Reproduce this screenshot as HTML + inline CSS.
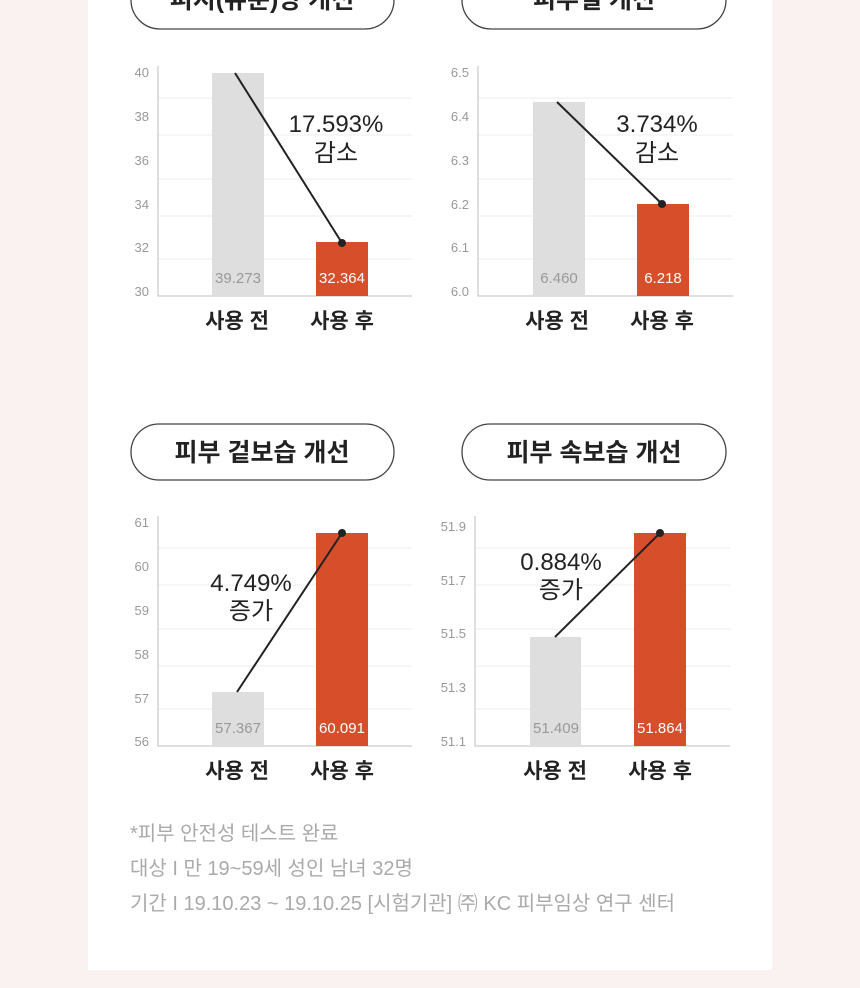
<!DOCTYPE html>
<html><head><meta charset="utf-8"><style>
body{margin:0;background:#f9f2f1;width:860px;height:988px;overflow:hidden;font-family:"Liberation Sans","Noto Sans CJK KR",sans-serif}
svg{position:absolute;left:0;top:0}
</style></head><body>
<svg width="860" height="988" viewBox="0 0 860 988" font-family="Liberation Sans, Noto Sans CJK KR, sans-serif">
<rect x="88" y="0" width="684" height="970" fill="#fff"/>
<!-- pills -->
<rect x="131" y="-30" width="263" height="59" rx="29" fill="#fff" stroke="#444" stroke-width="1.3"/>
<text x="262" y="8" font-size="25" font-weight="bold" text-anchor="middle" fill="#222">피지(유분)량 개선</text>
<rect x="462" y="-30" width="264" height="59" rx="29" fill="#fff" stroke="#444" stroke-width="1.3"/>
<text x="594" y="8" font-size="25" font-weight="bold" text-anchor="middle" fill="#222">피부결 개선</text>
<rect x="131" y="424" width="263" height="56" rx="28" fill="#fff" stroke="#444" stroke-width="1.3"/>
<text x="262" y="461" font-size="25" font-weight="bold" text-anchor="middle" fill="#222">피부 겉보습 개선</text>
<rect x="462" y="424" width="264" height="56" rx="28" fill="#fff" stroke="#444" stroke-width="1.3"/>
<text x="594" y="461" font-size="25" font-weight="bold" text-anchor="middle" fill="#222">피부 속보습 개선</text>

<g font-size="13" fill="#999" text-anchor="end">
<text x="149" y="77">40</text><text x="149" y="121">38</text><text x="149" y="165">36</text><text x="149" y="209">34</text><text x="149" y="252">32</text><text x="149" y="296">30</text>
<text x="469" y="77">6.5</text><text x="469" y="121">6.4</text><text x="469" y="165">6.3</text><text x="469" y="209">6.2</text><text x="469" y="252">6.1</text><text x="469" y="296">6.0</text>
<text x="149" y="527">61</text><text x="149" y="571">60</text><text x="149" y="615">59</text><text x="149" y="659">58</text><text x="149" y="703">57</text><text x="149" y="746">56</text>
<text x="466" y="531">51.9</text><text x="466" y="585">51.7</text><text x="466" y="638">51.5</text><text x="466" y="692">51.3</text><text x="466" y="746">51.1</text>
</g>
<g stroke="#eee" stroke-width="1">
<line x1="158" x2="412" y1="98" y2="98"/><line x1="158" x2="412" y1="135" y2="135"/><line x1="158" x2="412" y1="179" y2="179"/><line x1="158" x2="412" y1="216" y2="216"/><line x1="158" x2="412" y1="259" y2="259"/>
<line x1="478" x2="733" y1="98" y2="98"/><line x1="478" x2="733" y1="135" y2="135"/><line x1="478" x2="733" y1="179" y2="179"/><line x1="478" x2="733" y1="216" y2="216"/><line x1="478" x2="733" y1="259" y2="259"/>
<line x1="158" x2="412" y1="548" y2="548"/><line x1="158" x2="412" y1="585" y2="585"/><line x1="158" x2="412" y1="629" y2="629"/><line x1="158" x2="412" y1="666" y2="666"/><line x1="158" x2="412" y1="709" y2="709"/>
<line x1="475" x2="730" y1="548" y2="548"/><line x1="475" x2="730" y1="585" y2="585"/><line x1="475" x2="730" y1="629" y2="629"/><line x1="475" x2="730" y1="666" y2="666"/><line x1="475" x2="730" y1="709" y2="709"/>
</g>
<g stroke="#ccc" stroke-width="1.3" fill="none">
<path d="M158 66V296H412"/><path d="M478 66V296H733"/><path d="M158 516V746H412"/><path d="M475 516V746H730"/>
</g>
<!-- bars -->
<rect x="212" y="73" width="52" height="223" fill="#dedede"/><rect x="316" y="242" width="52" height="54" fill="#d64f2a"/>
<rect x="533" y="102" width="52" height="194" fill="#dedede"/><rect x="637" y="204" width="52" height="92" fill="#d64f2a"/>
<rect x="212" y="692" width="52" height="54" fill="#dedede"/><rect x="316" y="533" width="52" height="213" fill="#d64f2a"/>
<rect x="530" y="637" width="51" height="109" fill="#dedede"/><rect x="634" y="533" width="52" height="213" fill="#d64f2a"/>
<g stroke="#222" stroke-width="2">
<line x1="235" y1="73" x2="342" y2="243"/><line x1="557" y1="102" x2="662" y2="204"/>
<line x1="237" y1="692" x2="342" y2="533"/><line x1="555" y1="637" x2="660" y2="533"/>
</g>
<g fill="#222"><circle cx="342" cy="243" r="4"/><circle cx="662" cy="204" r="4"/><circle cx="342" cy="533" r="4"/><circle cx="660" cy="533" r="4"/></g>
<g font-size="15" text-anchor="middle">
<text x="238" y="283" fill="#999">39.273</text><text x="342" y="283" fill="#fff">32.364</text>
<text x="559" y="283" fill="#999">6.460</text><text x="663" y="283" fill="#fff">6.218</text>
<text x="238" y="733" fill="#999">57.367</text><text x="342" y="733" fill="#fff">60.091</text>
<text x="556" y="733" fill="#999">51.409</text><text x="660" y="733" fill="#fff">51.864</text>
</g>
<g font-size="24" text-anchor="middle" fill="#222">
<text x="336" y="132">17.593%</text><text x="336" y="161">감소</text>
<text x="657" y="132">3.734%</text><text x="657" y="161">감소</text>
<text x="251" y="591">4.749%</text><text x="251" y="619">증가</text>
<text x="561" y="570">0.884%</text><text x="561" y="598">증가</text>
</g>
<g font-size="21" font-weight="bold" text-anchor="middle" fill="#222">
<text x="237" y="328">사용 전</text><text x="342" y="328">사용 후</text>
<text x="557" y="328">사용 전</text><text x="662" y="328">사용 후</text>
<text x="237" y="778">사용 전</text><text x="342" y="778">사용 후</text>
<text x="555" y="778">사용 전</text><text x="660" y="778">사용 후</text>
</g>
<g font-size="20" fill="#aaa">
<text x="130" y="840">*피부 안전성 테스트 완료</text>
<text x="130" y="875">대상 I 만 19~59세 성인 남녀 32명</text>
<text x="130" y="910">기간 I 19.10.23 ~ 19.10.25 [시험기관] ㈜ KC 피부임상 연구 센터</text>
</g>
</svg>
</body></html>
